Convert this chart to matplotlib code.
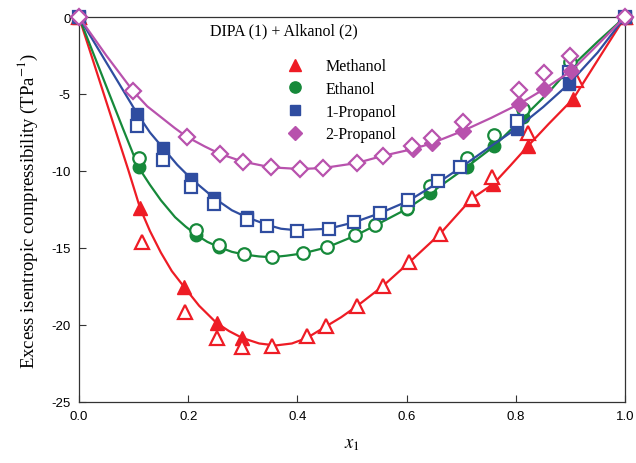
import matplotlib
matplotlib.use("Agg")
import matplotlib.pyplot as plt
from matplotlib.lines import Line2D

plt.rcParams["axes.unicode_minus"] = False
plt.rcParams["mathtext.fontset"] = "stix"

# dados: x1, excesso de compressibilidade isentropica (TPa^-1)
# Metanol
met_x_ab = [0, 0.116, 0.195, 0.252, 0.299, 0.353, 0.417, 0.452, 0.510, 0.556, 0.605, 0.661, 0.719, 0.756, 0.823, 0.911, 1.0]
met_y_ab = [0, -14.63, -19.13, -20.87, -21.45, -21.34, -20.69, -20.09, -18.75, -17.49, -15.93, -14.09, -11.74, -10.38, -7.53, -4.07, 0]
met_x_ch = [0, 0.112, 0.193, 0.252, 0.299, 0.719, 0.759, 0.823, 0.905, 1.0]
met_y_ch = [0, -12.42, -17.55, -19.87, -20.84, -11.85, -10.84, -8.35, -5.32, 0]
met_x_lin = [0, 0.05, 0.09, 0.112, 0.13, 0.15, 0.17, 0.193, 0.22, 0.252, 0.275, 0.299, 0.33, 0.36, 0.39, 0.417, 0.452, 0.48,
             0.510, 0.556, 0.605, 0.661, 0.719, 0.759, 0.79, 0.823, 0.86, 0.905, 0.95, 1.0]
met_y_lin = [0, -5.5, -9.9, -12.42, -13.9, -15.3, -16.5, -17.55, -18.75, -19.87, -20.4, -20.84, -21.2, -21.33, -21.2, -20.85,
             -20.1, -19.5, -18.75, -17.49, -15.93, -14.09, -11.8, -10.84, -9.65, -8.35, -6.95, -5.32, -2.8, 0]

# Etanol
et_x_ab = [0, 0.109, 0.214, 0.257, 0.302, 0.353, 0.410, 0.455, 0.506, 0.542, 0.600, 0.643, 0.710, 0.760, 0.814, 0.899, 1.0]
et_y_ab = [0, -9.16, -13.83, -14.78, -15.39, -15.61, -15.32, -14.91, -14.16, -13.51, -12.42, -11.0, -9.17, -7.69, -5.97, -2.94, 0]
et_x_ch = [0, 0.109, 0.214, 0.257, 0.600, 0.643, 0.710, 0.760, 0.814, 0.900, 1.0]
et_y_ch = [0, -9.76, -14.13, -14.95, -12.47, -11.45, -9.75, -8.40, -6.51, -3.30, 0]
et_x_lin = [0, 0.05, 0.08, 0.109, 0.13, 0.15, 0.176, 0.195, 0.214, 0.235, 0.257, 0.28, 0.302, 0.33, 0.353, 0.38, 0.410,
            0.455, 0.506, 0.542, 0.600, 0.643, 0.710, 0.760, 0.814, 0.86, 0.900, 0.95, 1.0]
et_y_lin = [0, -4.5, -7.2, -9.76, -10.9, -11.9, -13.0, -13.6, -14.13, -14.6, -14.95, -15.25, -15.42, -15.55, -15.6, -15.5,
            -15.35, -14.95, -14.2, -13.55, -12.47, -11.45, -9.75, -8.40, -6.51, -4.9, -3.30, -1.6, 0]

# 1-Propanol
p1_x_ab = [0, 0.107, 0.154, 0.206, 0.248, 0.307, 0.345, 0.399, 0.457, 0.504, 0.551, 0.603, 0.658, 0.698, 0.803, 0.897, 1.0]
p1_y_ab = [0, -7.10, -9.26, -11.06, -12.17, -13.16, -13.59, -13.87, -13.77, -13.33, -12.74, -11.90, -10.66, -9.74, -6.78, -3.59, 0]
p1_x_ch = [0, 0.107, 0.154, 0.206, 0.248, 0.307, 0.803, 0.897, 1.0]
p1_y_ch = [0, -6.30, -8.51, -10.52, -11.77, -13.00, -7.28, -4.35, 0]
p1_x_lin = [0, 0.05, 0.107, 0.13, 0.154, 0.18, 0.206, 0.248, 0.28, 0.307, 0.345, 0.37, 0.399, 0.457, 0.504, 0.551, 0.603,
            0.658, 0.698, 0.75, 0.803, 0.85, 0.897, 0.95, 1.0]
p1_y_lin = [0, -2.95, -6.30, -7.5, -8.51, -9.6, -10.52, -11.77, -12.55, -13.0, -13.5, -13.75, -13.85, -13.75, -13.33, -12.74,
            -11.95, -10.75, -9.8, -8.5, -7.20, -5.85, -4.35, -2.3, 0]

# 2-Propanol
p2_x_ab = [0, 0.0995, 0.197, 0.259, 0.300, 0.351, 0.404, 0.447, 0.509, 0.556, 0.610, 0.646, 0.704, 0.806, 0.852, 0.900, 1.0]
p2_y_ab = [0, -4.83, -7.77, -8.90, -9.39, -9.76, -9.87, -9.81, -9.48, -9.02, -8.37, -7.85, -6.84, -4.72, -3.66, -2.51, 0]
p2_x_ch = [0, 0.612, 0.646, 0.704, 0.806, 0.852, 0.902, 1.0]
p2_y_ch = [0, -8.57, -8.20, -7.38, -5.65, -4.68, -3.49, 0]
p2_x_lin = [0, 0.05, 0.0995, 0.125, 0.15, 0.175, 0.197, 0.23, 0.259, 0.300, 0.351, 0.404, 0.447, 0.509, 0.556, 0.612,
            0.646, 0.704, 0.755, 0.806, 0.852, 0.902, 0.95, 1.0]
p2_y_lin = [0, -2.5, -4.83, -5.8, -6.5, -7.2, -7.77, -8.4, -8.90, -9.39, -9.76, -9.87, -9.81, -9.48, -9.02, -8.57,
            -8.20, -7.38, -6.55, -5.65, -4.68, -3.49, -1.8, 0]

nomes = ["Methanol", "Ethanol", "1-Propanol", "2-Propanol"]
cores = ["#ee1c25", "#16893a", "#2f4da0", "#b852ad"]
marcadores = ["^", "o", "s", "D"]
tamanhos = [10, 9, 8.5, 8]

series = [
    (met_x_lin, met_y_lin, met_x_ch, met_y_ch, met_x_ab, met_y_ab),
    (et_x_lin, et_y_lin, et_x_ch, et_y_ch, et_x_ab, et_y_ab),
    (p1_x_lin, p1_y_lin, p1_x_ch, p1_y_ch, p1_x_ab, p1_y_ab),
    (p2_x_lin, p2_y_lin, p2_x_ch, p2_y_ch, p2_x_ab, p2_y_ab),
]

serif = "Liberation Serif"
sans = "Liberation Sans"

fig = plt.figure(figsize=(6.36, 4.64), dpi=100)
ax = fig.add_axes([0.1242, 0.1315, 0.8585, 0.8297])

for i, (xl, yl, xc, yc, xa, ya) in enumerate(series):
    c = cores[i]
    m = marcadores[i]
    ms = tamanhos[i]
    ax.plot(xl, yl, color=c, lw=1.6, zorder=2 + 2 * i)
    ax.plot(xc, yc, ls="none", marker=m, ms=ms, color=c, mec=c, zorder=3 + 2 * i, clip_on=False)
    ax.plot(xa, ya, ls="none", marker=m, ms=ms, mfc="white", mec=c, mew=1.6, zorder=3 + 2 * i, clip_on=False)

ax.set_xlim(0, 1.0)
ax.set_ylim(-25, 0)
ax.set_xticks([0, 0.2, 0.4, 0.6, 0.8, 1.0])
ax.set_xticklabels(["0.0", "0.2", "0.4", "0.6", "0.8", "1.0"])
ax.set_yticks([0, -5, -10, -15, -20, -25])
ax.tick_params(direction="in", length=5, width=0.8, colors="#333333", labelsize=9.5,
               top=False, right=False, pad=6)
for lab in ax.get_xticklabels() + ax.get_yticklabels():
    lab.set_fontfamily(sans)
    lab.set_color("black")
for s in ax.spines.values():
    s.set_linewidth(0.9)
    s.set_color("#333333")

ax.set_ylabel("Excess isentropic compressibility (TPa$^{-1}$)", fontfamily=serif, fontsize=13.5, labelpad=8)
ax.set_xlabel("$x_1$", fontsize=13.5, labelpad=8)

# titulo dentro do grafico
ax.text(0.375, 0.966, "DIPA (1) + Alkanol (2)", transform=ax.transAxes, ha="center", va="center",
        fontfamily=serif, fontsize=11.5)

handles = [Line2D([], [], ls="none", marker=marcadores[i], ms=tamanhos[i] * 0.9, color=cores[i]) for i in range(4)]
ax.legend(handles, nomes, loc="upper left", bbox_to_anchor=(0.347, 0.93), frameon=False,
          prop={"family": serif, "size": 11.5}, handletextpad=1.15, labelspacing=0.42, handlelength=1.5)

fig.savefig("out.png", dpi=100)
